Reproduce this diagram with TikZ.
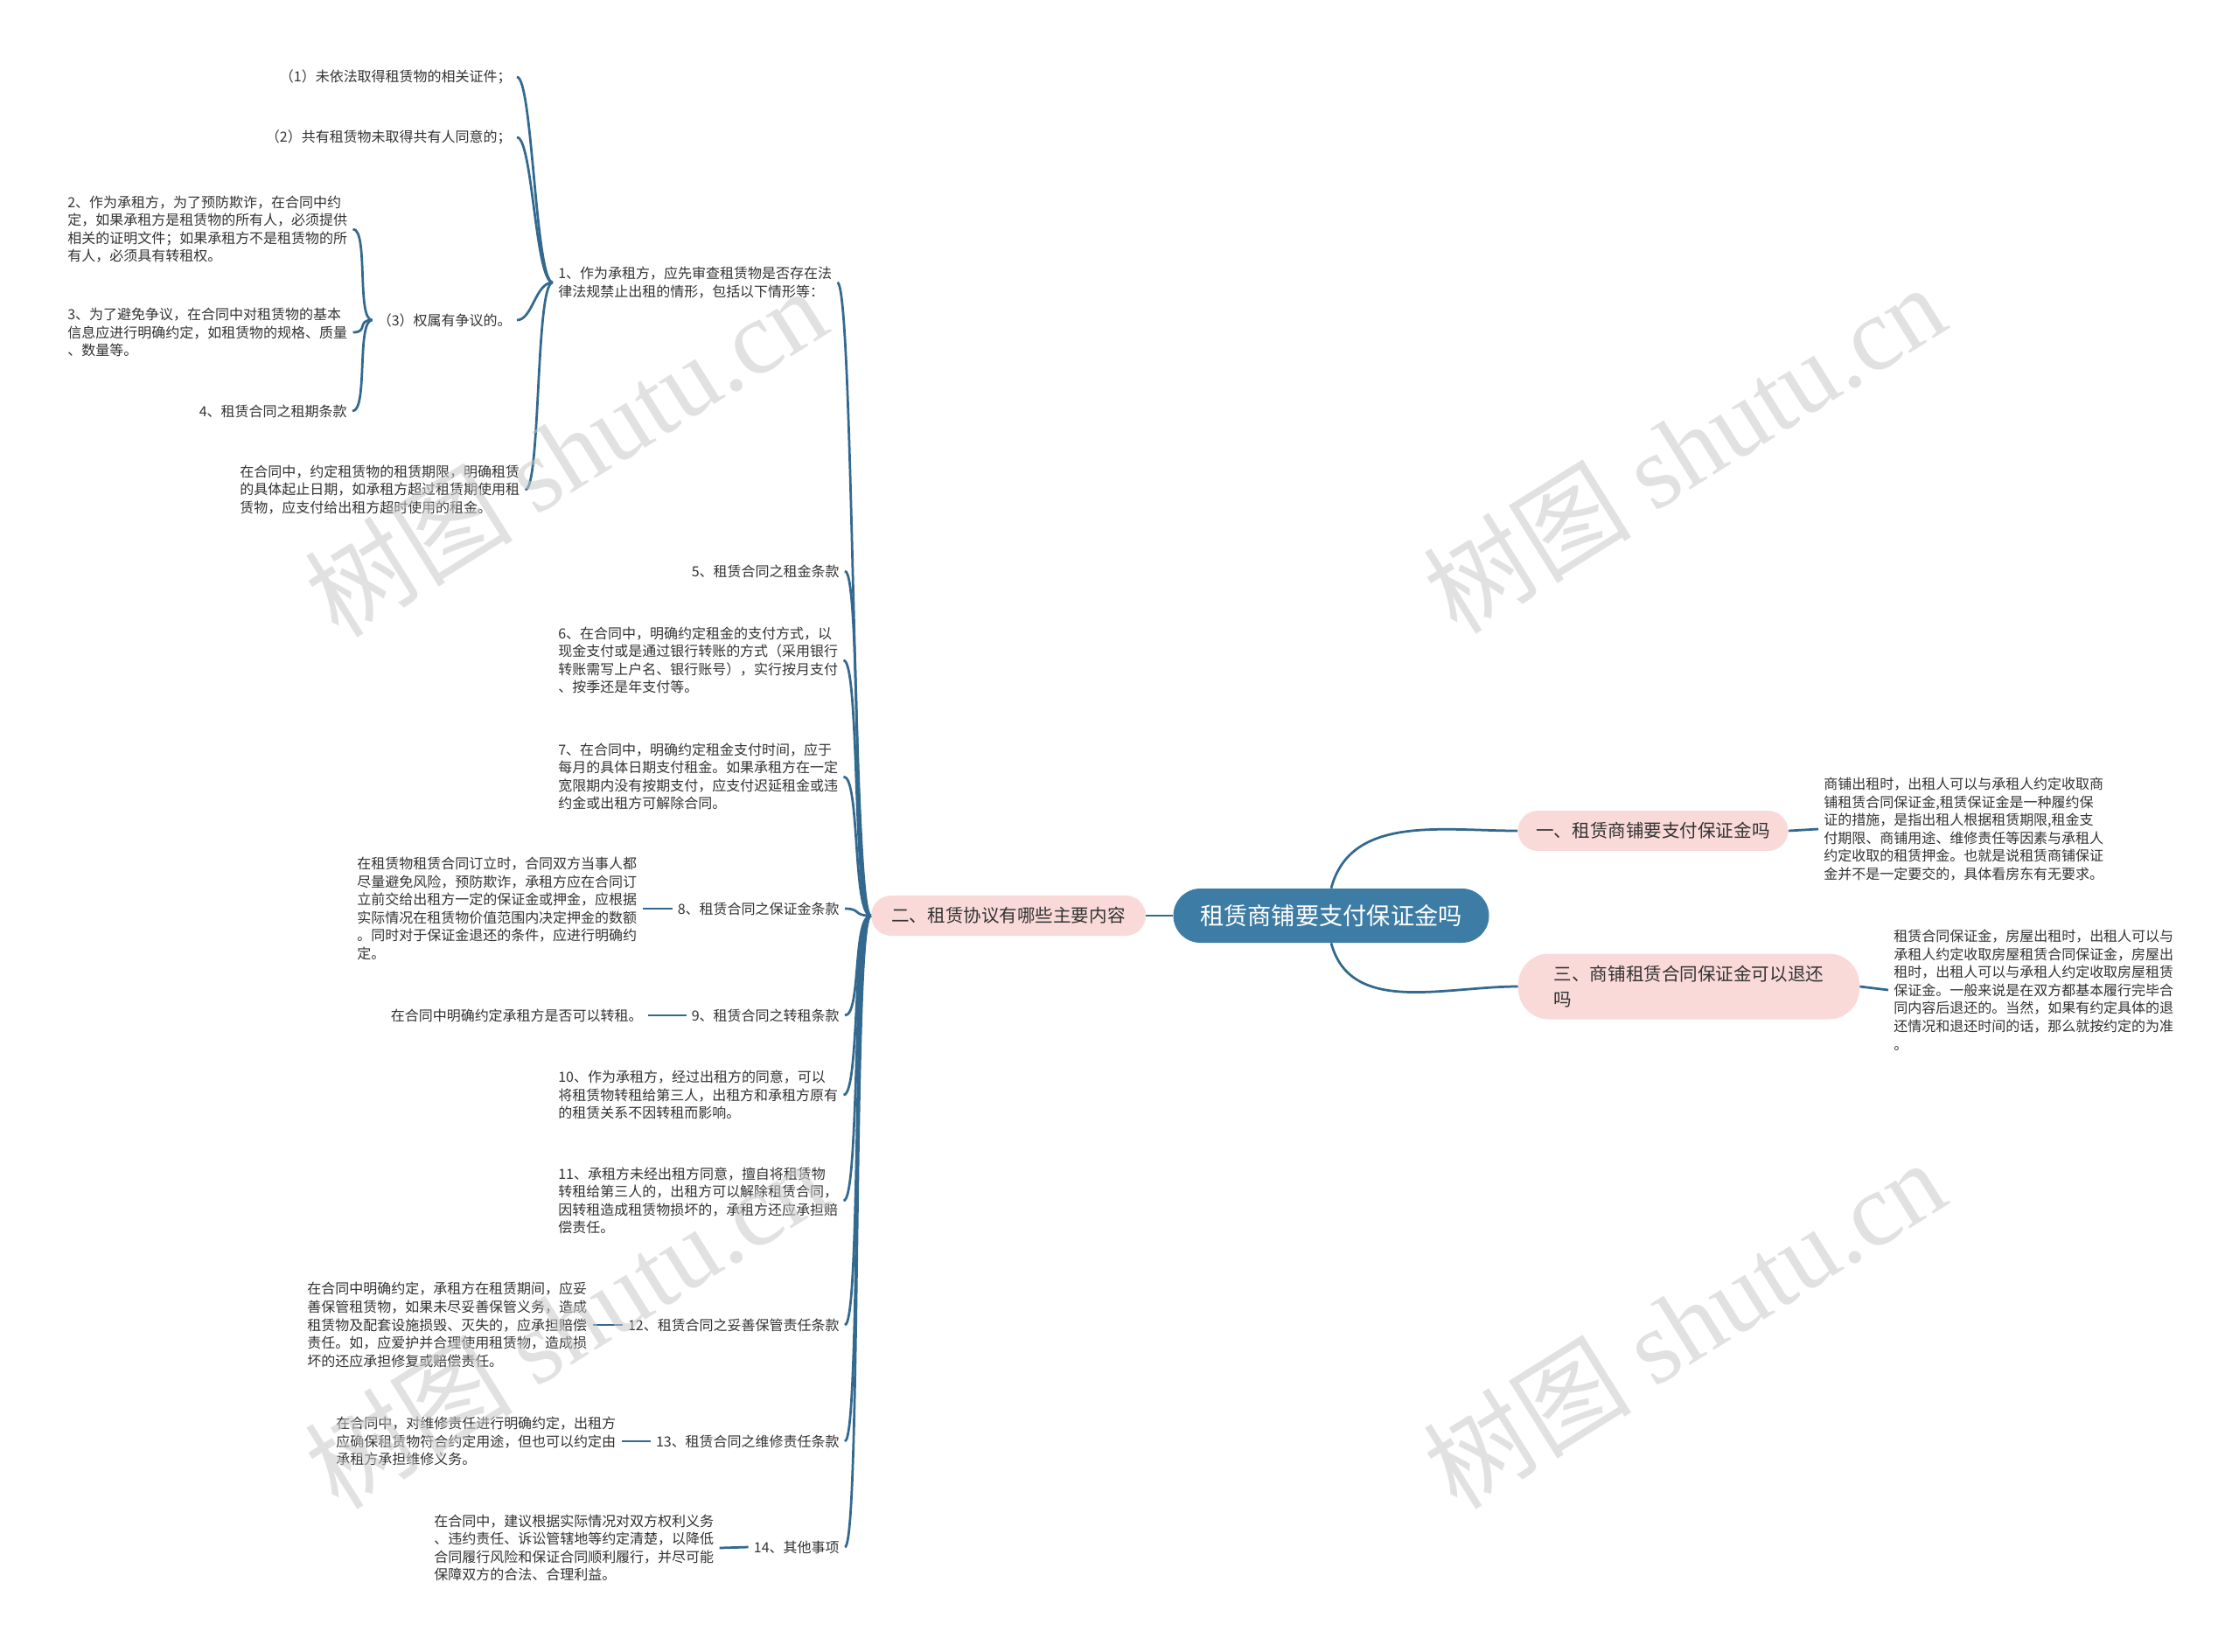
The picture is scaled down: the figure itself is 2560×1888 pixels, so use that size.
\documentclass[tikz,border=0pt]{standalone}
\usepackage{fontspec}
\setmainfont{Noto Sans CJK SC}
\newfontfamily\wmlatin{Liberation Serif}
\usetikzlibrary{positioning}
\definecolor{topicblue}{HTML}{3D7CA4}
\definecolor{linkblue}{HTML}{33698F}
\definecolor{branchpink}{HTML}{F9DAD9}
\definecolor{textgrey}{HTML}{333333}
\tikzset{
  link/.style={draw=linkblue, line width=0.55mm},
  topic/.style={fill=topicblue, text=white, rounded corners=6.2mm, minimum width=72.2mm,
    minimum height=12.4mm, font=\fontsize{15.5pt}{18pt}\selectfont},
  branch/.style={fill=branchpink, text=textgrey, rounded corners=4.6mm, minimum height=9.2mm,
    font=\fontsize{11.7pt}{14.5pt}\selectfont},
  leaf/.style={text=textgrey, align=left, inner xsep=1.2mm, inner ysep=0.5mm,
    font=\fontsize{9.1pt}{11.7pt}\selectfont},
  wmtext/.style={text=gray!42, opacity=0.55, rotate=32, font=\fontsize{68pt}{76pt}\selectfont}
}

\begin{document}
\begin{tikzpicture}[x=0.2mm,y=-0.2mm]
  \fill[white] (0,0) rectangle (2560,1888);
  \useasboundingbox (0,0) rectangle (2560,1888);

  % centre and main branches
  \node[topic] (root) at (1522,1047) {租赁商铺要支付保证金吗};
  \node[branch, minimum width=62.8mm] (n2) at (1153,1047) {二、租赁协议有哪些主要内容};
  \node[branch, minimum width=61.8mm] (n1) at (1890,950) {一、租赁商铺要支付保证金吗};
  \node[branch, minimum width=78mm, minimum height=15mm, rounded corners=7mm, align=left,
    font=\fontsize{11.7pt}{16.5pt}\selectfont] (n3) at (1931,1128) {三、商铺租赁合同保证金可以退还\\吗};

  \draw[link] (root.west) -- (n2.east);
  \draw[link] (root.north) to[out=75,in=180] (n1.west);
  \draw[link] (root.south) to[out=-75,in=180] (n3.west);

  % right side texts
  \node[leaf, anchor=west] (r1) at (2079,948) {商铺出租时，出租人可以与承租人约定收取商\\铺租赁合同保证金,租赁保证金是一种履约保\\证的措施，是指出租人根据租赁期限,租金支\\付期限、商铺用途、维修责任等因素与承租人\\约定收取的租赁押金。也就是说租赁商铺保证\\金并不是一定要交的，具体看房东有无要求。};
  \node[leaf, anchor=west] (r3) at (2159,1132) {租赁合同保证金，房屋出租时，出租人可以与\\承租人约定收取房屋租赁合同保证金，房屋出\\租时，出租人可以与承租人约定收取房屋租赁\\保证金。一般来说是在双方都基本履行完毕合\\同内容后退还的。当然，如果有约定具体的退\\还情况和退还时间的话，那么就按约定的为准\\。};
  \draw[link] (n1.east) -- (r1.west);
  \draw[link] (n3.east) -- (r3.west);

  % items of branch two
  \node[leaf, anchor=west] (c1) at (632,323) {1、作为承租方，应先审查租赁物是否存在法\\律法规禁止出租的情形，包括以下情形等：};
  \node[leaf, anchor=east] (c5) at (966,653) {5、租赁合同之租金条款};
  \node[leaf, anchor=west] (c6) at (632,755) {6、在合同中，明确约定租金的支付方式，以\\现金支付或是通过银行转账的方式（采用银行\\转账需写上户名、银行账号），实行按月支付\\、按季还是年支付等。};
  \node[leaf, anchor=west] (c7) at (632,888) {7、在合同中，明确约定租金支付时间，应于\\每月的具体日期支付租金。如果承租方在一定\\宽限期内没有按期支付，应支付迟延租金或违\\约金或出租方可解除合同。};
  \node[leaf, anchor=east] (c8) at (966,1039) {8、租赁合同之保证金条款};
  \node[leaf, anchor=east] (c9) at (966,1161) {9、租赁合同之转租条款};
  \node[leaf, anchor=west] (c10) at (632,1252) {10、作为承租方，经过出租方的同意，可以\\将租赁物转租给第三人，出租方和承租方原有\\的租赁关系不因转租而影响。};
  \node[leaf, anchor=west] (c11) at (632,1373) {11、承租方未经出租方同意，擅自将租赁物\\转租给第三人的，出租方可以解除租赁合同，\\因转租造成租赁物损坏的，承租方还应承担赔\\偿责任。};
  \node[leaf, anchor=east] (c12) at (966,1515) {12、租赁合同之妥善保管责任条款};
  \node[leaf, anchor=east] (c13) at (966,1648) {13、租赁合同之维修责任条款};
  \node[leaf, anchor=east] (c14) at (966,1769) {14、其他事项};
  \foreach \c in {c1,c5,c6,c7,c8,c9,c10,c11,c12,c13,c14}
    \draw[link] (n2.west) .. controls +(-21,0) and +(19,0) .. (\c.east);

  % details of item 1
  \node[leaf, anchor=east] (d1) at (591,88) {（1）未依法取得租赁物的相关证件；};
  \node[leaf, anchor=east] (d2) at (591,157) {（2）共有租赁物未取得共有人同意的；};
  \node[leaf, anchor=east] (d3) at (591,366) {（3）权属有争议的。};
  \node[leaf, anchor=west] (d4) at (268,560) {在合同中，约定租赁物的租赁期限，明确租赁\\的具体起止日期，如承租方超过租赁期使用租\\赁物，应支付给出租方超时使用的租金。};
  \foreach \d in {d1,d2,d3,d4}
    \draw[link] (c1.west) .. controls +(-20,0) and +(18,0) .. (\d.east);

  \node[leaf, anchor=west] (e2) at (71,262) {2、作为承租方，为了预防欺诈，在合同中约\\定，如果承租方是租赁物的所有人，必须提供\\相关的证明文件；如果承租方不是租赁物的所\\有人，必须具有转租权。};
  \node[leaf, anchor=west] (e3) at (71,380) {3、为了避免争议，在合同中对租赁物的基本\\信息应进行明确约定，如租赁物的规格、质量\\、数量等。};
  \node[leaf, anchor=east] (e4) at (403,470) {4、租赁合同之租期条款};
  \foreach \e in {e2,e3,e4}
    \draw[link] (d3.west) .. controls +(-18,0) and +(18,0) .. (\e.east);

  % texts hanging off single items
  \node[leaf, anchor=west] (f8) at (402,1039) {在租赁物租赁合同订立时，合同双方当事人都\\尽量避免风险，预防欺诈，承租方应在合同订\\立前交给出租方一定的保证金或押金，应根据\\实际情况在租赁物价值范围内决定押金的数额\\。同时对于保证金退还的条件，应进行明确约\\定。};
  \node[leaf, anchor=east] (f9) at (741,1161) {在合同中明确约定承租方是否可以转租。};
  \node[leaf, anchor=west] (f12) at (345,1515) {在合同中明确约定，承租方在租赁期间，应妥\\善保管租赁物，如果未尽妥善保管义务，造成\\租赁物及配套设施损毁、灭失的，应承担赔偿\\责任。如，应爱护并合理使用租赁物，造成损\\坏的还应承担修复或赔偿责任。};
  \node[leaf, anchor=west] (f13) at (378,1648) {在合同中，对维修责任进行明确约定，出租方\\应确保租赁物符合约定用途，但也可以约定由\\承租方承担维修义务。};
  \node[leaf, anchor=west] (f14) at (490,1770) {在合同中，建议根据实际情况对双方权利义务\\、违约责任、诉讼管辖地等约定清楚，以降低\\合同履行风险和保证合同顺利履行，并尽可能\\保障双方的合法、合理利益。};
  \foreach \i in {8,9,12,13,14}
    \draw[link] (c\i.west) -- (f\i.east);

  % watermarks
  \foreach \wx/\wy [count=\k] in {646/516,1925/512,646/1513,1925/1513}
    \node[wmtext] (wm\k) at (\wx,\wy) {树图 {\wmlatin shutu.cn}};
\end{tikzpicture}
\end{document}
